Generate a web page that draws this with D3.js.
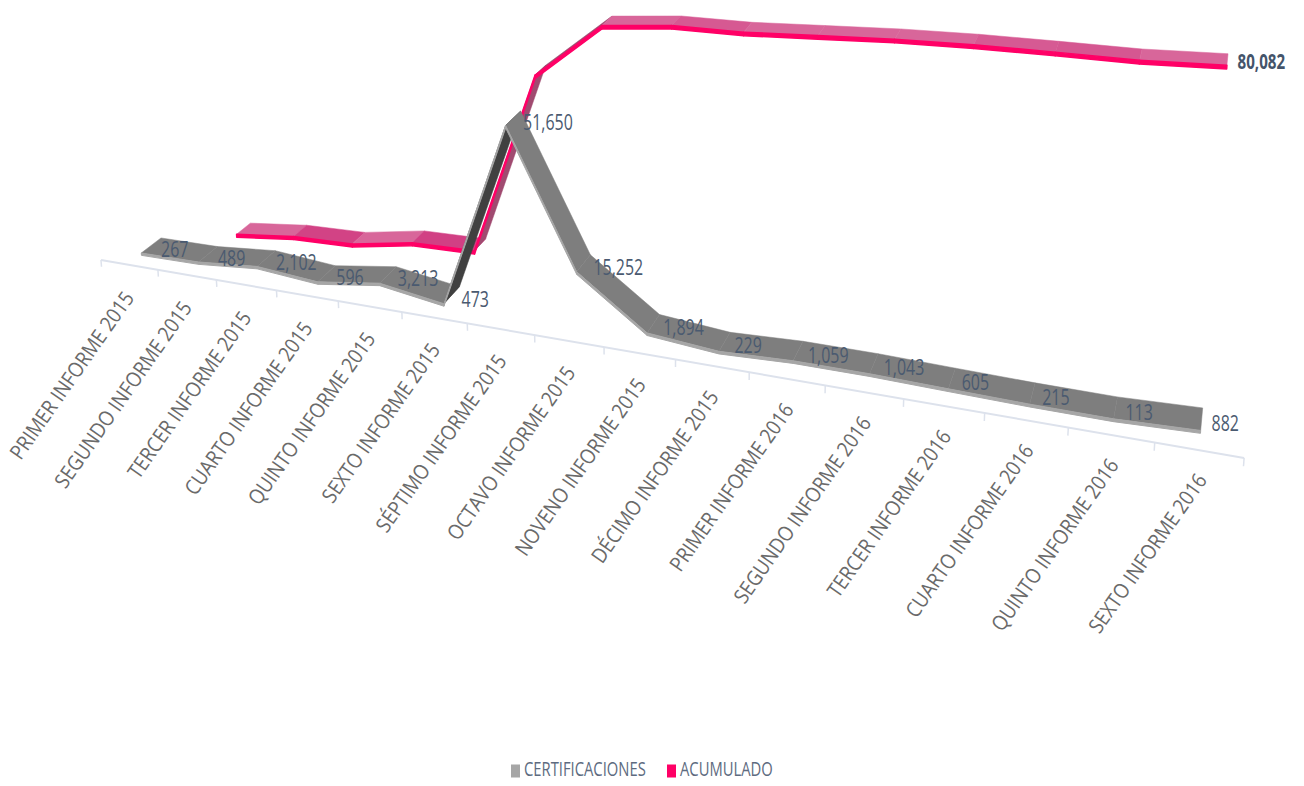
<!DOCTYPE html>
<meta charset="utf-8">
<script src="https://d3js.org/d3.v7.min.js"></script>
<style>
  html, body { margin: 0; background: #fff; }
  text { font-family: "Open Sans", sans-serif; }
</style>
<body>
<div id="chart"></div>

<script>
// values
const categories = [
  "PRIMER INFORME 2015", "SEGUNDO INFORME 2015", "TERCER INFORME 2015", "CUARTO INFORME 2015",
  "QUINTO INFORME 2015", "SEXTO INFORME 2015", "SÉPTIMO INFORME 2015", "OCTAVO INFORME 2015",
  "NOVENO INFORME 2015", "DÉCIMO INFORME 2015", "PRIMER INFORME 2016", "SEGUNDO INFORME 2016",
  "TERCER INFORME 2016", "CUARTO INFORME 2016", "QUINTO INFORME 2016", "SEXTO INFORME 2016"
];
const certificaciones = [267, 489, 2102, 596, 3213, 473, 51650, 15252, 1894, 229, 1059, 1043, 605, 215, 113, 882];
// first point of the cumulative line is not drawn in the original
const acumulado = [null, 756, 2858, 3454, 6667, 7140, 58790, 74042, 75936, 76165, 77224, 78267, 78872, 79087, 79200, 80082];

const width = 1304, height = 786;

const svg = d3.select("#chart").append("svg")
  .attr("width", width)
  .attr("height", height)
  .style("display", "block");

// scales: category -> position along the floor, value -> height term
const x = d3.scaleBand().domain(categories).range([0, categories.length]);
const y = d3.scaleLinear().domain([0, 80082]).range([0, -0.03476]);

// the 3D look of the old chart: homogeneous projection with 3 vanishing directions
const origin = [101, 260], axisDir = [1, 0.1732];
const alongA = 56.15, alongB = -0.01338;
const depthVP = [1294, -626], heightVP = [675, 8000];

function project(t, value, z) {
  const u = y(value), w0 = 1 + alongB * t;
  const w = w0 + z + u;
  return [
    (origin[0] * w0 + alongA * t * axisDir[0] + z * depthVP[0] + u * heightVP[0]) / w,
    (origin[1] * w0 + alongA * t * axisDir[1] + z * depthVP[1] + u * heightVP[1]) / w
  ];
}
const center = d => x(d) + x.bandwidth() / 2;

// floor axis
const axis = svg.append("g").attr("class", "axis");
const tickEdges = d3.range(categories.length + 1);
axis.append("line")
  .attr("x1", project(0, 0, 0)[0]).attr("y1", project(0, 0, 0)[1])
  .attr("x2", project(categories.length, 0, 0)[0]).attr("y2", project(categories.length, 0, 0)[1])
  .attr("stroke", "#dde2ec").attr("stroke-width", 2);
axis.selectAll(".tick").data(tickEdges).join("line")
  .attr("class", "tick")
  .attr("x1", d => project(d, 0, 0)[0]).attr("y1", d => project(d, 0, 0)[1])
  .attr("x2", d => project(d, -2000, 0)[0]).attr("y2", d => project(d, -2000, 0)[1])
  .attr("stroke", "#dde2ec").attr("stroke-width", 1.5);

// category labels, rotated
axis.selectAll(".cat").data(categories).join("text")
  .attr("class", "cat")
  .attr("text-anchor", "end")
  .attr("dominant-baseline", "middle")
  .attr("font-size", 21)
  .attr("fill", "#6a6a6a")
  .attr("transform", d => {
    const t = center(d), p = project(t, 0, 0);
    return `translate(${p[0] + 1 + 0.2 * t},${p[1] + 30 - 0.2 * t}) rotate(-55) scale(0.88,1)`;
  })
  .text(d => d);

// one ribbon = top face per segment + front edge per segment
function ribbon(values, opt) {
  const pts = categories.map((c, i) => ({ t: center(c), v: values[i] })).filter(d => d.v != null);
  const segs = d3.pairs(pts);
  const g = svg.append("g");
  const line = d3.line();
  const faceColor = ([a, b]) => {
    const p = project(a.t, a.v, opt.zFront), q = project(b.t, b.v, opt.zFront);
    return opt.shade((q[1] - p[1]) / (q[0] - p[0]));
  };

  g.selectAll(".face").data(segs).join("path")
    .attr("class", "face")
    .attr("d", ([a, b]) => line([
      project(a.t, a.v + opt.up, opt.zFront), project(b.t, b.v + opt.up, opt.zFront),
      project(b.t, b.v + opt.up, opt.zBack), project(a.t, a.v + opt.up, opt.zBack)
    ]) + "Z")
    .attr("fill", faceColor)
    .attr("stroke", faceColor)
    .attr("stroke-width", 0.5);

  g.selectAll(".front").data(segs).join("path")
    .attr("class", "front")
    .attr("d", ([a, b]) => line([
      project(a.t, a.v + opt.up, opt.zFront), project(b.t, b.v + opt.up, opt.zFront),
      project(b.t, b.v + opt.down, opt.zFront), project(a.t, a.v + opt.down, opt.zFront)
    ]) + "Z")
    .attr("fill", opt.edge)
    .attr("stroke", opt.edge)
    .attr("stroke-width", opt.edgeWidth)
    .attr("stroke-linejoin", "round");
}

const pinkSlope = d3.scaleLinear().domain([0.07, 0.14]).range(["#d8669a", "#d03a80"]).clamp(true);
ribbon(acumulado, {
  zFront: 0.046, zBack: 0.0595, up: -700, down: -1600, edge: "#ff0066", edgeWidth: 1.5,
  shade: s => s < -0.3 ? "#a04a70" : pinkSlope(s)
});

ribbon(certificaciones, {
  zFront: 0.0105, zBack: 0.028, up: 500, down: -200, edge: "#a6a6a6", edgeWidth: 1,
  shade: s => s < -0.3 ? "#404040" : "#7e7e7e"
});

// data labels, placed right of the ribbon middle (squeezed, the original font is narrow)
const fmt = d3.format(",");
svg.append("g").selectAll("text").data(categories).join("text")
  .attr("transform", (d, i) => {
    const p = project(center(d), certificaciones[i], 0.019);
    return `translate(${p[0] + 10},${p[1] + 4}) scale(0.76,1)`;
  })
  .attr("dominant-baseline", "middle")
  .attr("font-size", 21)
  .attr("fill", "#4a5a70")
  .text((d, i) => fmt(certificaciones[i]));

const lastCat = categories[categories.length - 1];
const lastPoint = project(center(lastCat), acumulado[15], 0.051);
svg.append("text")
  .attr("transform", `translate(${lastPoint[0] + 10},${lastPoint[1] + 6}) scale(0.72,1)`)
  .attr("dominant-baseline", "middle")
  .attr("font-size", 21)
  .attr("font-weight", 700)
  .attr("fill", "#44546a")
  .text(fmt(acumulado[15]));

// legend
const legendItems = ["CERTIFICACIONES", "ACUMULADO"];
const legendColors = ["#a6a6a6", "#ff0066"];
const legendX = [511, 667];
const legend = svg.append("g").selectAll("g").data(legendItems).join("g")
  .attr("transform", (d, i) => `translate(${legendX[i]},771)`);
legend.append("rect")
  .attr("x", 0).attr("y", -6.5).attr("width", 9).attr("height", 13)
  .attr("fill", (d, i) => legendColors[i]);
legend.append("text")
  .attr("transform", "translate(13,0) scale(0.74,1)")
  .attr("dominant-baseline", "middle")
  .attr("font-size", 20)
  .attr("fill", "#5d6b80")
  .text(d => d);
</script>
</body>
